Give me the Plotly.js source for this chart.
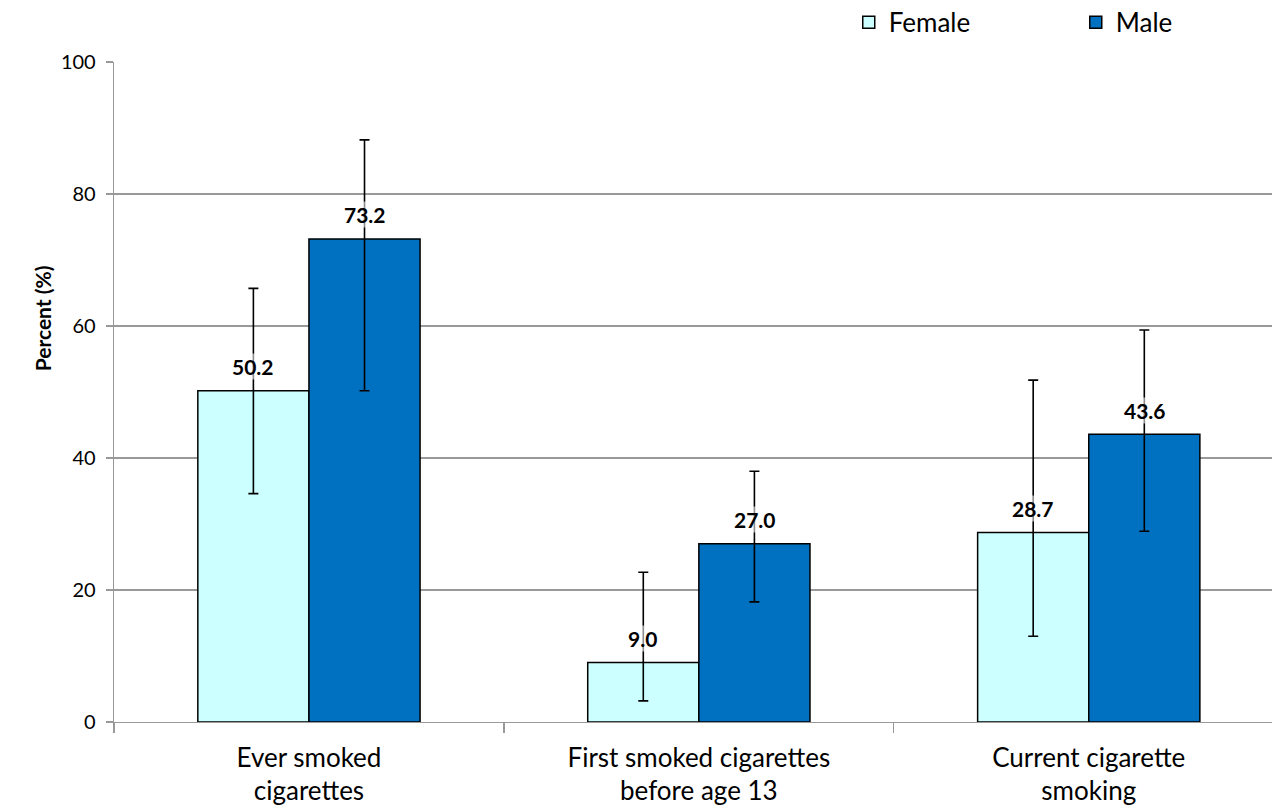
<!DOCTYPE html>
<html>
<head>
<meta charset="utf-8">
<script src="https://cdn.plot.ly/plotly-3.0.1.min.js"></script>
<style>html,body{margin:0;padding:0;background:#fff;}#chart{width:1272px;height:810px;}</style>
</head>
<body>
<div id="chart"></div>
<script>
// Data
const categories = ["Ever smoked<br>cigarettes", "First smoked cigarettes<br>before age 13", "Current cigarette<br>smoking"];
const femaleValues = [50.2, 9.0, 28.7];
const femaleUpper  = [65.7, 22.7, 51.8];
const femaleLower  = [34.6, 3.2, 13.0];
const maleValues   = [73.2, 27.0, 43.6];
const maleUpper    = [88.2, 38.0, 59.4];
const maleLower    = [50.2, 18.2, 28.9];
const yTicks = [0, 20, 40, 60, 80, 100];

const FONT = "Lato, 'Open Sans', sans-serif";

function errY(vals, up, lo) {
  return {
    type: 'data', symmetric: false,
    array: vals.map((v, i) => +(up[i] - v).toFixed(2)),
    arrayminus: vals.map((v, i) => +(v - lo[i]).toFixed(2)),
    color: '#000', thickness: 1.6, width: 5, visible: true
  };
}

const traces = [
  {
    type: 'bar', name: 'Female', x: categories, y: femaleValues,
    marker: {color: '#CCFFFF', line: {color: '#000', width: 1.5}},
    error_y: errY(femaleValues, femaleUpper, femaleLower),
    hoverinfo: 'y'
  },
  {
    type: 'bar', name: 'Male', x: categories, y: maleValues,
    marker: {color: '#0070C0', line: {color: '#000', width: 1.5}},
    error_y: errY(maleValues, maleUpper, maleLower),
    hoverinfo: 'y'
  }
];

const annotations = [];
function addLabels(vals, shift) {
  vals.forEach((v, i) => {
    annotations.push({
      x: categories[i], y: v, xref: 'x', yref: 'y',
      text: '<b>' + v.toFixed(1) + '</b>', showarrow: false,
      xshift: shift, yshift: 24, yanchor: 'middle',
      font: {family: FONT, size: 21, color: '#000'},
      bgcolor: 'rgba(255,255,255,0.55)', borderpad: 0
    });
  });
}
addLabels(femaleValues, -56);
addLabels(maleValues, 56);

annotations.push({
  xref: 'paper', yref: 'paper', x: -0.062, y: 0.612,
  text: '<b>Percent (%)</b>', textangle: -90, showarrow: false,
  xanchor: 'center', yanchor: 'middle',
  font: {family: FONT, size: 21, color: '#000'}
});

const layout = {
  width: 1272, height: 810,
  margin: {l: 114, r: 0, t: 62, b: 88, autoexpand: false},
  paper_bgcolor: '#fff', plot_bgcolor: '#fff',
  barmode: 'group', bargap: 0.43, bargroupgap: 0,
  font: {family: FONT, color: '#000'},
  showlegend: true,
  legend: {
    orientation: 'h', x: 0.6345, xanchor: 'left', y: 1.06, yanchor: 'middle',
    entrywidth: 182, entrywidthmode: 'pixels',
    font: {family: FONT, size: 26, color: '#000'},
    bgcolor: 'rgba(0,0,0,0)', traceorder: 'normal'
  },
  xaxis: {
    type: 'category', range: [-0.5, 2.47],
    showline: true, linecolor: '#999', linewidth: 1.3,
    ticks: 'outside', tickson: 'boundaries', ticklen: 10, tickcolor: '#999', tickwidth: 1.3,
    ticklabelstandoff: 12,
    tickfont: {family: FONT, size: 26, color: '#000'},
    showgrid: false, zeroline: false, fixedrange: true
  },
  yaxis: {
    range: [0, 100], tickvals: yTicks, ticktext: yTicks.map(String),
    showline: true, linecolor: '#999', linewidth: 1.3,
    ticks: 'outside', ticklen: 7, tickcolor: '#999', tickwidth: 1.3,
    ticklabelstandoff: 6,
    tickfont: {family: FONT, size: 20, color: '#000'},
    showgrid: true, gridcolor: '#999', gridwidth: 1.3,
    zeroline: false, fixedrange: true
  },
  annotations: annotations
};

Plotly.newPlot('chart', traces, layout, {displayModeBar: false, staticPlot: true});
</script>
</body>
</html>
